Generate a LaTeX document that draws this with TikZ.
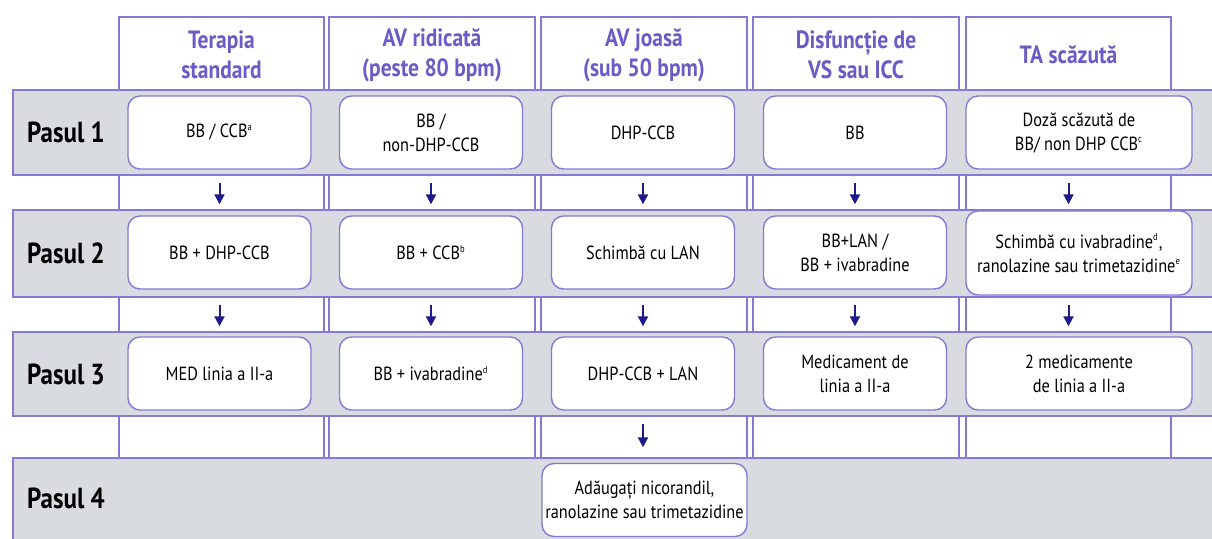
\documentclass[tikz,border=0pt]{standalone}
\usepackage{fontspec}
\setmainfont{PT Sans}[FakeStretch=0.86]
\usetikzlibrary{arrows.meta}
\definecolor{bandgray}{HTML}{D8DCE1}
\definecolor{linepurple}{HTML}{8579D6}
\definecolor{headpurple}{HTML}{6A5BC6}
\definecolor{arrownavy}{HTML}{1E1A8A}
\tikzset{
  colstrip/.style={draw=linepurple, fill=white, line width=0.7pt, minimum width=102.5pt, minimum height=220.5pt, inner sep=0pt},
  band/.style={draw=linepurple, fill=bandgray, line width=0.7pt, minimum width=603.5pt, inner sep=0pt},
  headtxt/.style={text=headpurple, font=\bfseries\fontsize{12.5}{15}\selectfont, align=center},
  pastxt/.style={font=\bfseries\fontsize{14.5}{17}\selectfont},
  stepbox/.style={draw=linepurple, fill=white, line width=0.7pt, rounded corners=6pt, minimum width=91.5pt, minimum height=36.5pt, inner sep=1pt, align=center, font=\fontsize{9.5}{12}\selectfont},
  widebox/.style={stepbox, minimum width=113pt},
  arr/.style={draw=arrownavy, line width=1pt, -{Triangle[width=5pt,length=5pt]}, shorten <=3.5pt, shorten >=2.5pt}
}
\newcommand{\ftn}[1]{\textsuperscript{\tiny #1}}
\begin{document}
\begin{tikzpicture}[x=0.5pt, y=-0.5pt]
\clip (0,0) rectangle (1212,538);
\fill[white] (0,0) rectangle (1212,538);
% column strips
\node[colstrip] (col1) at (221.5,237.5){};
\node[colstrip, minimum width=103pt] (col2) at (432,237.5){};
\node[colstrip, minimum width=103pt] (col3) at (644,237.5){};
\node[colstrip, minimum width=103pt] (col4) at (856,237.5){};
\node[colstrip] (col5) at (1068.5,237.5){};
\node[headtxt] (h1) at (221.5,55){Terapia\\standard};
\node[headtxt] (h2) at (432,55){AV ridicată\\(peste 80 bpm)};
\node[headtxt] (h3) at (644,55){AV joasă\\(sub 50 bpm)};
\node[headtxt] (h4) at (856,55){Disfuncție de\\VS sau ICC};
\node[headtxt] (h5) at (1068.5,55){TA scăzută};
% bands
\node[band, minimum height=42.5pt] (r1) at (616.5,132.5){};
\node[band, minimum height=43.5pt] (r2) at (616.5,253.5){};
\node[band, minimum height=42pt] (r3) at (616.5,374){};
\node[band, minimum height=43.5pt] (r4) at (616.5,501.5){};
\node[pastxt] (p1) at (66,132.5){Pasul 1};
\node[pastxt] (p2) at (66,253.5){Pasul 2};
\node[pastxt] (p3) at (66,374){Pasul 3};
\node[pastxt] (p4) at (66,498){Pasul 4};
% pasul 1
\node[stepbox] (b11) at (219.5,132.5){BB / CCB\ftn{a}};
\node[stepbox] (b12) at (431,132.5){BB /\\non-DHP-CCB};
\node[stepbox] (b13) at (643,132.5){DHP-CCB};
\node[stepbox] (b14) at (855,132.5){BB};
\node[widebox] (b15) at (1079,132.5){Doză scăzută de\\BB/ non DHP CCB\ftn{c}};
% pasul 2
\node[stepbox] (b21) at (219.5,252.5){BB + DHP-CCB};
\node[stepbox] (b22) at (431,252.5){BB + CCB\ftn{b}};
\node[stepbox] (b23) at (643,252.5){Schimbă cu LAN};
\node[stepbox] (b24) at (855,252.5){BB+LAN /\\BB + ivabradine};
\node[widebox, minimum height=42pt] (b25) at (1079,253){Schimbă cu ivabradine\ftn{d},\\ranolazine sau trimetazidine\ftn{e}};
% pasul 3
\node[stepbox] (b31) at (219.5,373.5){MED linia a II-a};
\node[stepbox] (b32) at (431,373.5){BB + ivabradine\ftn{d}};
\node[stepbox] (b33) at (643,373.5){DHP-CCB + LAN};
\node[stepbox] (b34) at (855,373.5){Medicament de\\linia a II-a};
\node[widebox] (b35) at (1079,373.5){2 medicamente\\de linia a II-a};
% pasul 4
\node[stepbox, minimum width=102.5pt] (b43) at (644.5,500){Adăugați nicorandil,\\ranolazine sau trimetazidine};
% arrows
\draw[arr] (r1.south -| b11) -- (r2.north -| b11);
\draw[arr] (r1.south -| b12) -- (r2.north -| b12);
\draw[arr] (r1.south -| b13) -- (r2.north -| b13);
\draw[arr] (r1.south -| b14) -- (r2.north -| b14);
\draw[arr] (r1.south -| col5) -- (r2.north -| col5);
\draw[arr] (r2.south -| b21) -- (r3.north -| b21);
\draw[arr] (r2.south -| b22) -- (r3.north -| b22);
\draw[arr] (r2.south -| b23) -- (r3.north -| b23);
\draw[arr] (r2.south -| b24) -- (r3.north -| b24);
\draw[arr] (r2.south -| col5) -- (r3.north -| col5);
\draw[arr, shorten >=5pt] (r3.south -| b33) -- (r4.north -| b33);
\end{tikzpicture}
\end{document}
